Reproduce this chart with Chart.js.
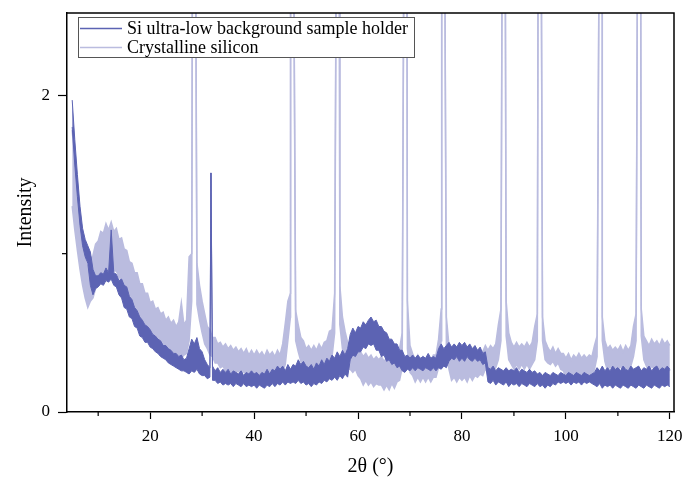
<!DOCTYPE html>
<html>
<head>
<meta charset="utf-8">
<script src="https://cdn.jsdelivr.net/npm/chart.js@4/dist/chart.umd.min.js"></script>
<style>
  body { margin: 0; background: #fff; }
  #wrap { width: 688px; height: 479px; }
</style>
</head>
<body>
<div id="wrap"><canvas id="xrd"></canvas></div>
<script>
// 2theta grid of the band arrays: 5.0, 5.5, ... 120.0
const angleStart = 5;
const angleStep = 0.5;

// Si ultra-low background sample holder: upper / lower edge of the noise band
const holderHigh = [
  1.97, 1.72, 1.50, 1.30, 1.16, 1.09, 1.05, 1.01, 0.90, 0.86,
  0.86, 0.88, 0.87, 0.91, 0.88, 1.15, 0.88, 0.87, 0.83, 0.84,
  0.80, 0.79, 0.73, 0.71, 0.66, 0.64, 0.60, 0.58, 0.55, 0.54,
  0.52, 0.49, 0.48, 0.46, 0.45, 0.42, 0.42, 0.40, 0.39, 0.37,
  0.37, 0.35, 0.36, 0.33, 0.34, 0.40, 0.46, 0.43, 0.47, 0.40,
  0.38, 0.33, 0.30, 0.28, 0.29, 0.26, 0.28, 0.25, 0.27, 0.25,
  0.27, 0.24, 0.26, 0.25, 0.24, 0.26, 0.23, 0.25, 0.24, 0.26,
  0.24, 0.25, 0.23, 0.25, 0.24, 0.27, 0.24, 0.27, 0.26, 0.29,
  0.27, 0.29, 0.26, 0.30, 0.27, 0.30, 0.29, 0.33, 0.30, 0.32,
  0.29, 0.28, 0.30, 0.27, 0.31, 0.29, 0.33, 0.30, 0.34, 0.32,
  0.36, 0.34, 0.38, 0.35, 0.39, 0.36, 0.40, 0.49, 0.53, 0.50,
  0.54, 0.53, 0.57, 0.55, 0.58, 0.60, 0.57, 0.58, 0.54, 0.54,
  0.51, 0.50, 0.46, 0.46, 0.43, 0.43, 0.39, 0.39, 0.35, 0.36,
  0.34, 0.36, 0.34, 0.36, 0.34, 0.35, 0.34, 0.37, 0.34, 0.35,
  0.34, 0.40, 0.43, 0.40, 0.42, 0.44, 0.41, 0.43, 0.41, 0.44,
  0.42, 0.44, 0.41, 0.43, 0.40, 0.42, 0.39, 0.41, 0.37, 0.38,
  0.28, 0.27, 0.29, 0.26, 0.28, 0.27, 0.26, 0.28, 0.26, 0.27,
  0.26, 0.28, 0.25, 0.27, 0.26, 0.25, 0.27, 0.25, 0.26, 0.24,
  0.25, 0.23, 0.25, 0.24, 0.23, 0.25, 0.24, 0.23, 0.25, 0.24,
  0.23, 0.25, 0.24, 0.23, 0.25, 0.24, 0.23, 0.25, 0.24, 0.23,
  0.24, 0.25, 0.28, 0.26, 0.29, 0.26, 0.28, 0.26, 0.29, 0.27,
  0.28, 0.26, 0.29, 0.27, 0.26, 0.29, 0.27, 0.28, 0.29, 0.26,
  0.28, 0.27, 0.29, 0.26, 0.28, 0.29, 0.26, 0.28, 0.27, 0.29,
  0.27
];
const holderLow = [
  1.80, 1.56, 1.36, 1.18, 1.05, 0.98, 0.94, 0.80, 0.74, 0.78,
  0.79, 0.81, 0.80, 0.83, 0.82, 0.84, 0.80, 0.79, 0.74, 0.72,
  0.66, 0.65, 0.60, 0.59, 0.54, 0.53, 0.48, 0.47, 0.44, 0.44,
  0.41, 0.40, 0.38, 0.37, 0.35, 0.34, 0.33, 0.31, 0.30, 0.29,
  0.28, 0.27, 0.26, 0.26, 0.25, 0.24, 0.26, 0.25, 0.27, 0.24,
  0.23, 0.23, 0.21, 0.22, 0.20, 0.20, 0.18, 0.19, 0.17, 0.18,
  0.17, 0.18, 0.16, 0.18, 0.17, 0.16, 0.18, 0.16, 0.17, 0.16,
  0.17, 0.15, 0.17, 0.16, 0.15, 0.17, 0.16, 0.18, 0.16, 0.18,
  0.17, 0.19, 0.17, 0.19, 0.18, 0.19, 0.18, 0.20, 0.18, 0.19,
  0.17, 0.18, 0.16, 0.18, 0.17, 0.19, 0.18, 0.20, 0.19, 0.21,
  0.20, 0.22, 0.20, 0.23, 0.21, 0.24, 0.22, 0.33, 0.36, 0.35,
  0.38, 0.38, 0.41, 0.40, 0.43, 0.42, 0.43, 0.39, 0.39, 0.35,
  0.36, 0.32, 0.33, 0.30, 0.31, 0.28, 0.29, 0.26, 0.25, 0.27,
  0.26, 0.28, 0.26, 0.28, 0.27, 0.26, 0.28, 0.27, 0.26, 0.28,
  0.26, 0.28, 0.27, 0.29, 0.28, 0.32, 0.34, 0.33, 0.35, 0.32,
  0.34, 0.32, 0.35, 0.33, 0.32, 0.34, 0.32, 0.33, 0.30, 0.31,
  0.19, 0.18, 0.20, 0.17, 0.19, 0.18, 0.17, 0.19, 0.16, 0.18,
  0.17, 0.18, 0.16, 0.18, 0.17, 0.16, 0.18, 0.17, 0.16, 0.18,
  0.16, 0.17, 0.15, 0.17, 0.16, 0.18, 0.17, 0.19, 0.18, 0.19,
  0.18, 0.19, 0.17, 0.19, 0.18, 0.19, 0.17, 0.19, 0.18, 0.19,
  0.18, 0.17, 0.16, 0.18, 0.15, 0.17, 0.16, 0.17, 0.15, 0.17,
  0.16, 0.15, 0.17, 0.16, 0.15, 0.17, 0.16, 0.15, 0.17, 0.16,
  0.15, 0.17, 0.16, 0.15, 0.17, 0.16, 0.15, 0.17, 0.16, 0.17,
  0.16
];
// sharp holder reflection
const holderSpikeAngle = 31.7;
const holderSpikeValue = 1.51;

// Crystalline silicon: upper / lower edge of the noise band
const siliconHigh = [
  1.78, 1.58, 1.42, 1.22, 1.08, 0.97, 0.91, 0.96, 0.99, 1.06,
  1.08, 1.14, 1.13, 1.19, 1.15, 1.20, 1.14, 1.16, 1.09, 1.10,
  1.03, 1.02, 0.95, 0.94, 0.88, 0.88, 0.81, 0.81, 0.75, 0.75,
  0.69, 0.70, 0.65, 0.66, 0.62, 0.63, 0.58, 0.60, 0.56, 0.58,
  0.54, 0.57, 0.69, 0.55, 0.58, 0.98, 1.00, 1.00, 0.94, 0.80,
  0.70, 0.62, 0.54, 0.52, 0.47, 0.47, 0.43, 0.44, 0.41, 0.43,
  0.40, 0.42, 0.39, 0.41, 0.38, 0.40, 0.37, 0.40, 0.36, 0.39,
  0.36, 0.39, 0.36, 0.38, 0.35, 0.39, 0.36, 0.38, 0.35, 0.39,
  0.36, 0.43, 0.56, 0.70, 0.75, 0.75, 0.64, 0.55, 0.47, 0.45,
  0.40, 0.42, 0.39, 0.42, 0.39, 0.43, 0.40, 0.44, 0.45, 0.51,
  0.52, 0.75, 0.80, 0.80, 0.60, 0.51, 0.44, 0.43, 0.40, 0.43,
  0.39, 0.38, 0.35, 0.37, 0.34, 0.36, 0.33, 0.35, 0.33, 0.35,
  0.32, 0.34, 0.32, 0.36, 0.33, 0.37, 0.40, 0.50, 0.70, 0.70,
  0.42, 0.37, 0.33, 0.36, 0.32, 0.35, 0.33, 0.35, 0.32, 0.36,
  0.36, 0.46, 0.65, 0.65, 0.60, 0.42, 0.38, 0.40, 0.37, 0.39,
  0.37, 0.40, 0.36, 0.39, 0.37, 0.40, 0.37, 0.39, 0.38, 0.42,
  0.39, 0.42, 0.40, 0.43, 0.55, 0.65, 0.70, 0.70, 0.50, 0.44,
  0.41, 0.44, 0.41, 0.43, 0.41, 0.44, 0.41, 0.44, 0.54, 0.62,
  0.62, 0.60, 0.45, 0.41, 0.38, 0.41, 0.37, 0.40, 0.37, 0.37,
  0.34, 0.37, 0.33, 0.36, 0.34, 0.37, 0.34, 0.36, 0.34, 0.36,
  0.35, 0.42, 0.48, 0.60, 0.60, 0.45, 0.40, 0.42, 0.39, 0.41,
  0.39, 0.42, 0.38, 0.42, 0.39, 0.42, 0.54, 0.62, 0.65, 0.65,
  0.48, 0.45, 0.42, 0.46, 0.43, 0.45, 0.42, 0.46, 0.43, 0.45,
  0.42
];
const siliconLow = [
  1.30, 1.15, 1.02, 0.90, 0.80, 0.72, 0.66, 0.70, 0.72, 0.78,
  0.80, 0.85, 0.86, 0.90, 0.89, 0.92, 0.89, 0.89, 0.85, 0.84,
  0.79, 0.78, 0.72, 0.71, 0.65, 0.64, 0.59, 0.58, 0.53, 0.53,
  0.48, 0.48, 0.44, 0.45, 0.41, 0.42, 0.38, 0.39, 0.36, 0.37,
  0.35, 0.36, 0.34, 0.36, 0.37, 0.45, 0.70, 0.70, 0.68, 0.58,
  0.50, 0.43, 0.40, 0.36, 0.35, 0.31, 0.31, 0.28, 0.29, 0.26,
  0.28, 0.25, 0.27, 0.25, 0.26, 0.23, 0.26, 0.23, 0.24, 0.22,
  0.25, 0.21, 0.24, 0.22, 0.24, 0.21, 0.23, 0.21, 0.24, 0.22,
  0.24, 0.26, 0.30, 0.45, 0.60, 0.60, 0.45, 0.38, 0.32, 0.30,
  0.25, 0.27, 0.24, 0.26, 0.24, 0.27, 0.24, 0.27, 0.27, 0.31,
  0.35, 0.50, 0.55, 0.55, 0.40, 0.32, 0.27, 0.27, 0.25, 0.27,
  0.23, 0.21, 0.17, 0.20, 0.17, 0.19, 0.16, 0.18, 0.17, 0.17,
  0.14, 0.17, 0.14, 0.18, 0.15, 0.19, 0.20, 0.28, 0.40, 0.40,
  0.25, 0.23, 0.19, 0.22, 0.19, 0.22, 0.19, 0.22, 0.19, 0.22,
  0.22, 0.28, 0.45, 0.45, 0.38, 0.27, 0.20, 0.22, 0.19, 0.22,
  0.20, 0.22, 0.19, 0.23, 0.20, 0.23, 0.22, 0.24, 0.23, 0.27,
  0.25, 0.28, 0.26, 0.28, 0.33, 0.45, 0.48, 0.48, 0.33, 0.30,
  0.27, 0.30, 0.27, 0.30, 0.27, 0.30, 0.27, 0.30, 0.33, 0.45,
  0.45, 0.45, 0.33, 0.31, 0.30, 0.32, 0.29, 0.31, 0.27, 0.26,
  0.22, 0.24, 0.21, 0.24, 0.22, 0.23, 0.21, 0.24, 0.22, 0.23,
  0.22, 0.27, 0.35, 0.45, 0.45, 0.32, 0.26, 0.29, 0.26, 0.29,
  0.26, 0.29, 0.26, 0.29, 0.26, 0.29, 0.35, 0.45, 0.48, 0.48,
  0.33, 0.29, 0.26, 0.29, 0.27, 0.29, 0.26, 0.29, 0.27, 0.29,
  0.26
];
// Si reflections (run off the top of the plot)
const siliconPeaks = [28.44, 47.30, 56.12, 69.13, 76.38, 88.03, 94.95, 106.71, 114.09];
const peakTop = 3.2;
const peakHalfWidth = 0.28;

const seriesNames = ['Si ultra-low background sample holder', 'Crystalline silicon'];
const xTicks = [20, 40, 60, 80, 100, 120];
const xMinorTicks = [10, 30, 50, 70, 90, 110];
const yTicks = [0, 2];
const yMinorTicks = [1];

const darkBlue = '#5c63b3';
const lavender = '#babcdf';
const serif = "'Liberation Serif', 'Times New Roman', serif";

function gridPoints(values) {
  return values.map((v, i) => ({ x: angleStart + i * angleStep, y: v }));
}

function holderPoints(values) {
  const pts = gridPoints(values);
  pts.push({ x: holderSpikeAngle, y: holderSpikeValue });
  return pts.sort((a, b) => a.x - b.x);
}

function siliconPoints(values) {
  const pts = gridPoints(values).filter(p =>
    siliconPeaks.every(c => Math.abs(p.x - c) >= peakHalfWidth));
  siliconPeaks.forEach(c => {
    pts.push({ x: c - peakHalfWidth, y: peakTop }, { x: c + peakHalfWidth, y: peakTop });
  });
  return pts.sort((a, b) => a.x - b.x);
}

const frameAndLegend = {
  id: 'frameAndLegend',
  afterDraw(chart) {
    const { ctx, chartArea: a, scales: { x, y } } = chart;
    ctx.save();
    ctx.strokeStyle = '#000';
    ctx.lineWidth = 1.5;
    ctx.beginPath();
    ctx.moveTo(a.left, a.top);
    ctx.lineTo(a.right, a.top);
    ctx.lineTo(a.right, a.bottom);
    ctx.stroke();

    ctx.lineWidth = 1.2;
    xMinorTicks.forEach(v => {
      const px = x.getPixelForValue(v);
      ctx.beginPath();
      ctx.moveTo(px, a.bottom);
      ctx.lineTo(px, a.bottom + 4);
      ctx.stroke();
    });
    yMinorTicks.forEach(v => {
      const py = y.getPixelForValue(v);
      ctx.beginPath();
      ctx.moveTo(a.left - 5, py);
      ctx.lineTo(a.left, py);
      ctx.stroke();
    });

    // legend box
    const lx = a.left + 11, ly = a.top + 4, lw = 336, lh = 40;
    ctx.fillStyle = '#fff';
    ctx.fillRect(lx, ly, lw, lh);
    ctx.strokeStyle = '#555';
    ctx.lineWidth = 1;
    ctx.strokeRect(lx + 0.5, ly + 0.5, lw, lh);
    ctx.font = '18px ' + serif;
    ctx.textBaseline = 'middle';
    [darkBlue, lavender].forEach((col, i) => {
      const ry = ly + 11.5 + i * 19;
      ctx.strokeStyle = col;
      ctx.lineWidth = 1.5;
      ctx.beginPath();
      ctx.moveTo(lx + 2, ry);
      ctx.lineTo(lx + 44, ry);
      ctx.stroke();
      ctx.fillStyle = '#000';
      ctx.fillText(seriesNames[i], lx + 49, ry + 1);
    });
    ctx.restore();
  }
};

new Chart('xrd', {
  type: 'line',
  data: {
    datasets: [
      { label: seriesNames[0], data: holderPoints(holderHigh), borderColor: darkBlue,
        backgroundColor: darkBlue, borderWidth: 1, fill: '+1' },
      { label: seriesNames[0], data: holderPoints(holderLow), borderColor: darkBlue,
        borderWidth: 1, fill: false },
      { label: seriesNames[1], data: siliconPoints(siliconHigh), borderColor: lavender,
        backgroundColor: lavender, borderWidth: 1.5, fill: '+1' },
      { label: seriesNames[1], data: siliconPoints(siliconLow), borderColor: lavender,
        borderWidth: 1.5, fill: false }
    ]
  },
  options: {
    responsive: true,
    maintainAspectRatio: false,
    animation: false,
    elements: { point: { radius: 0 }, line: { tension: 0 } },
    layout: { padding: { top: 13, right: 14, left: 0, bottom: 0 } },
    plugins: { legend: { display: false }, tooltip: { enabled: false } },
    scales: {
      x: {
        type: 'linear',
        min: 4,
        max: 120.8,
        afterBuildTicks: s => { s.ticks = xTicks.map(v => ({ value: v })); },
        afterFit: s => { s.height = 67; s.paddingLeft = 0; s.paddingRight = 0; },
        ticks: { color: '#000', font: { family: serif, size: 17 }, padding: 7, maxRotation: 0 },
        grid: { drawOnChartArea: false, tickLength: 7, tickColor: '#000', tickWidth: 1.2 },
        border: { color: '#000', width: 1.5 },
        title: { display: true, text: '2θ (°)', color: '#000',
                 font: { family: serif, size: 20 }, padding: { top: 0, bottom: 0 } }
      },
      y: {
        min: 0,
        max: 2.52,
        afterBuildTicks: s => { s.ticks = yTicks.map(v => ({ value: v })); },
        afterFit: s => { s.width = 67; s.paddingTop = 0; s.paddingBottom = 0; },
        ticks: { color: '#000', font: { family: serif, size: 17 }, padding: 8 },
        grid: { drawOnChartArea: false, tickLength: 9, tickColor: '#000', tickWidth: 1.2 },
        border: { color: '#000', width: 1.5 },
        title: { display: true, text: 'Intensity', color: '#000',
                 font: { family: serif, size: 20 }, padding: { top: 14, bottom: 0 } }
      }
    }
  },
  plugins: [frameAndLegend]
});
</script>
</body>
</html>
